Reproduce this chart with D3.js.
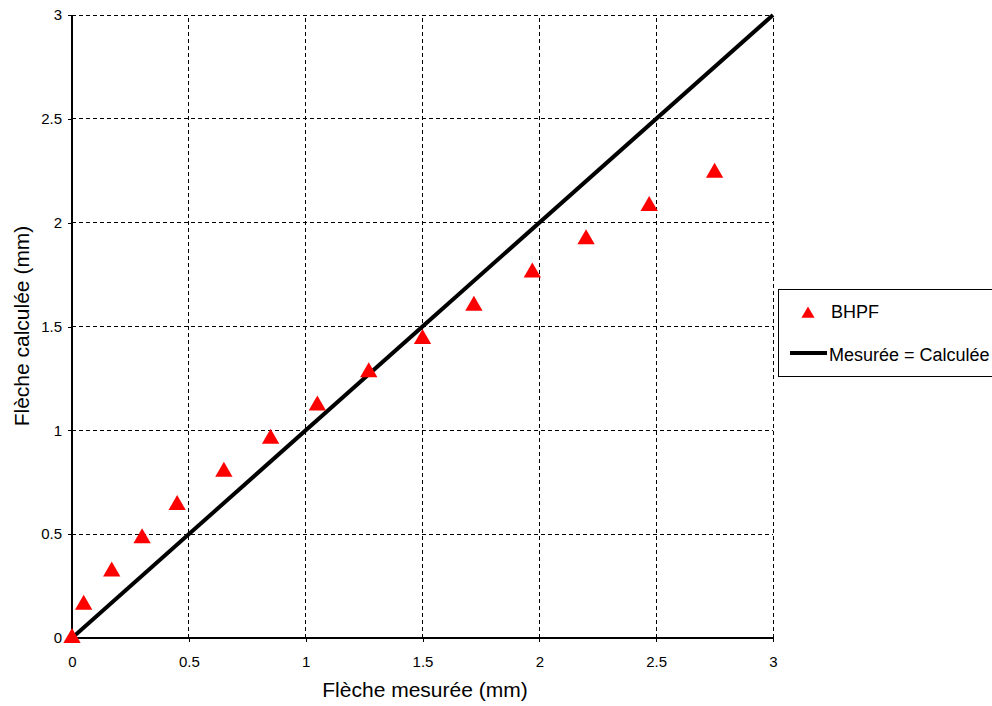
<!DOCTYPE html>
<html><head><meta charset="utf-8">
<script src="https://cdn.jsdelivr.net/npm/d3@7"></script>
<style>body{margin:0;background:#fff}svg{display:block}</style>
</head><body>
<svg id="c" width="992" height="706"></svg>
<script>
const measured = [0, 0.05, 0.17, 0.30, 0.45, 0.65, 0.85, 1.05, 1.27, 1.50, 1.72, 1.97, 2.20, 2.47, 2.75];
const calculated = [0, 0.16, 0.32, 0.48, 0.64, 0.80, 0.96, 1.12, 1.28, 1.44, 1.60, 1.76, 1.92, 2.08, 2.24];
const refLine = [[0, 0], [3, 3]];
const ticks = [0, 0.5, 1, 1.5, 2, 2.5, 3];
const seriesNames = ["BHPF", "Mesurée = Calculée"];

const svg = d3.select("#c");
const font = "Liberation Sans, Arial, sans-serif";
const x = d3.scaleLinear().domain([0, 3]).range([72, 773]);
const y = d3.scaleLinear().domain([0, 3]).range([638, 15]);

// grid
const g = svg.append("g");
g.selectAll(".vg").data(ticks.slice(1)).join("line")
  .attr("x1", d => x(d)).attr("x2", d => x(d)).attr("y1", y(0)).attr("y2", y(3))
  .attr("stroke", "#000").attr("stroke-width", 1).attr("stroke-dasharray", "4,3").attr("shape-rendering", "crispEdges");
g.selectAll(".hg").data(ticks.slice(1)).join("line")
  .attr("x1", x(0)).attr("x2", x(3)).attr("y1", d => y(d)).attr("y2", d => y(d))
  .attr("stroke", "#000").attr("stroke-width", 1).attr("stroke-dasharray", "4,3").attr("shape-rendering", "crispEdges");

// axes
const xAxis = d3.axisBottom(x).tickValues(ticks).tickSize(4).tickPadding(14).tickFormat(d3.format("~g"));
const yAxis = d3.axisLeft(y).tickValues(ticks).tickSize(4).tickPadding(6).tickFormat(d3.format("~g"));
const gx = svg.append("g").attr("transform", `translate(0,${y(0)})`).call(xAxis);
const gy = svg.append("g").attr("transform", `translate(${x(0)},0)`).call(yAxis);
[gx, gy].forEach(a => {
  a.select(".domain").attr("stroke", "#000").attr("stroke-width", 1.2).attr("shape-rendering", "crispEdges");
  a.selectAll(".tick line").attr("stroke", "#000").attr("shape-rendering", "crispEdges");
  a.selectAll("text").attr("font-family", font).attr("font-size", 15).attr("fill", "#000");
});
gx.select(".domain").attr("d", `M${x(0)},0H${x(3)}`);
gy.select(".domain").attr("d", `M0,${y(3)}V${y(0)}`);

// reference line
svg.append("path").datum(refLine)
  .attr("d", d3.line().x(d => x(d[0])).y(d => y(d[1])))
  .attr("stroke", "#000").attr("stroke-width", 4).attr("fill", "none");

// points
const tri = d3.symbol().type(d3.symbolTriangle).size(130);
svg.selectAll(".pt").data(measured.map((m, i) => [m, calculated[i]])).join("path")
  .attr("d", tri).attr("transform", d => `translate(${x(d[0])},${y(d[1])})`)
  .attr("fill", "#ff0000");

// axis titles
svg.append("text").attr("x", 425).attr("y", 697).attr("text-anchor", "middle")
  .attr("font-family", font).attr("font-size", 21).text("Flèche mesurée (mm)");
svg.append("text").attr("transform", "translate(29,326) rotate(-90)").attr("text-anchor", "middle")
  .attr("font-family", font).attr("font-size", 21).text("Flèche calculée (mm)");

// legend
const lg = svg.append("g");
lg.append("rect").attr("x", 778.5).attr("y", 289.5).attr("width", 230).attr("height", 87)
  .attr("fill", "#fff").attr("stroke", "#000").attr("stroke-width", 1);
lg.append("path").attr("d", d3.symbol().type(d3.symbolTriangle).size(75))
  .attr("transform", "translate(808,314)").attr("fill", "#ff0000");
lg.append("text").attr("x", 831).attr("y", 318).attr("font-family", font).attr("font-size", 18).text(seriesNames[0]);
lg.append("line").attr("x1", 790).attr("x2", 827).attr("y1", 353).attr("y2", 353)
  .attr("stroke", "#000").attr("stroke-width", 4);
lg.append("text").attr("x", 829).attr("y", 361).attr("font-family", font).attr("font-size", 18).text(seriesNames[1]);
</script>
</body></html>
